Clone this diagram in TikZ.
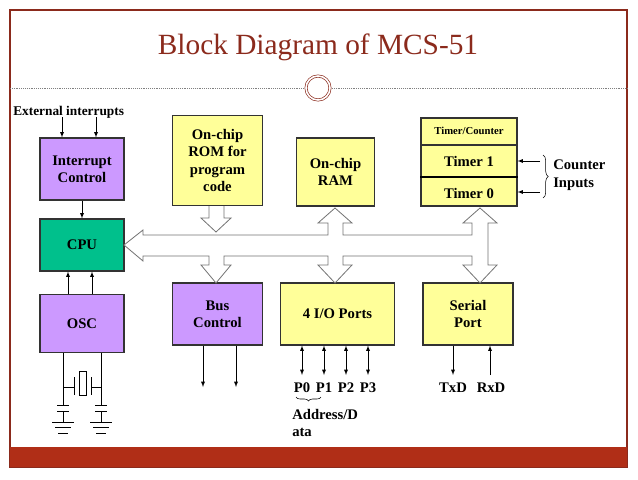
\documentclass[tikz,border=0pt]{standalone}
\usepackage{fontspec}
\setmainfont{Liberation Serif}
\usetikzlibrary{decorations.pathreplacing}
\definecolor{titlered}{HTML}{8B2A1C}
\definecolor{barred}{HTML}{B02E17}
\definecolor{cpugreen}{HTML}{00C08C}
\definecolor{oscviolet}{HTML}{CC99FF}
\definecolor{memyellow}{HTML}{FFFF99}
\tikzset{
  blk/.style={draw=black!80, thick, align=center, font=\fontsize{11}{13}\selectfont\bfseries, inner sep=0pt},
  lbl/.style={font=\fontsize{11}{13}\selectfont\bfseries, inner sep=0pt},
  sig/.style={-latex, thin},
  bus/.style={draw=black!55, fill=white, line width=0.6pt},
}
\begin{document}
\begin{tikzpicture}[x=0.75pt, y=-0.75pt]
    \useasboundingbox (0,0) rectangle (638,479);
    % Slide frame and title
    \draw[titlered, line width=0.8pt] (10,10) rectangle (627,467);
    \fill[barred] (10,447) rectangle (627,467);
    \node[titlered, font=\fontsize{22}{24}\selectfont] (title) at (318,47) {Block Diagram of MCS-51};
    \draw[black!50, densely dotted] (10,88) -- (304,88) (332,88) -- (627,88);
    \draw[titlered, double=white, double distance=1.2pt, line width=0.5pt] (318,88) circle (12);

    % Blocks
    \node[blk, fill=oscviolet, minimum width=63pt, minimum height=46.5pt] (intc) at (82,169) {Interrupt\\Control};
    \node[blk, fill=cpugreen, minimum width=63pt, minimum height=39pt] (cpu) at (82,245) {CPU};
    \node[blk, fill=oscviolet, minimum width=63pt, minimum height=43pt] (osc) at (82,323.5) {OSC};
    \node[blk, fill=memyellow, minimum width=67pt, minimum height=68pt] (rom) at (217.5,160.5) {On-chip\\ROM for\\program\\code};
    \node[blk, fill=memyellow, minimum width=59pt, minimum height=51pt] (ram) at (335.5,172) {On-chip\\RAM};
    \node[blk, fill=memyellow, minimum width=72pt, minimum height=66pt] (tmr) at (469,162) {};
    \node[lbl, font=\fontsize{8}{9}\selectfont\bfseries] (tc) at (469,131) {Timer/Counter};
    \node[lbl] (t1) at (469,161) {Timer 1};
    \node[lbl] (t0) at (469,193) {Timer 0};
    \draw[black!80, thick] (tmr.west |- 0,145) -- (tmr.east |- 0,145);
    \draw[black, line width=2pt] (tmr.west |- 0,177) -- (tmr.east |- 0,177);
    \node[blk, fill=oscviolet, minimum width=67pt, minimum height=46.5pt] (busc) at (217.5,314) {Bus\\Control};
    \node[blk, fill=memyellow, minimum width=86pt, minimum height=46.5pt] (io) at (337.5,314) {4 I/O Ports};
    \node[blk, fill=memyellow, minimum width=67.5pt, minimum height=46.5pt] (ser) at (468,314) {Serial\\Port};

    % System bus
    \draw[bus] (124,245) -- (143,230) -- (143,235) -- (328,235) -- (328,223) -- (318,223) -- (335,208)
      -- (352,223) -- (343,223) -- (343,235) -- (472,235) -- (472,223) -- (463,223) -- (480,208)
      -- (497,223) -- (488,223) -- (488,265) -- (497,265) -- (480,283) -- (463,265) -- (472,265)
      -- (472,256) -- (343,256) -- (343,265) -- (352,265) -- (335,283) -- (318,265) -- (328,265)
      -- (328,256) -- (224,256) -- (224,265) -- (231,265) -- (216,283) -- (201,265) -- (209,265)
      -- (209,256) -- (143,256) -- (143,261) -- cycle;
    \draw[bus] (209,206) -- (209,218) -- (201,218) -- (216,232) -- (231,218) -- (224,218) -- (224,206);

    % Interrupts and clock
    \node[lbl, font=\fontsize{10}{12}\selectfont\bfseries, anchor=west] (ext) at (13,112) {External interrupts};
    \coordinate (e1) at (62,117);
    \coordinate (e2) at (96,117);
    \draw[sig] (e1) -- (e1 |- intc.north);
    \draw[sig] (e2) -- (e2 |- intc.north);
    \draw[sig] (intc) -- (cpu);
    \draw[sig] (osc.north -| 68,0) -- (cpu.south -| 68,0);
    \draw[sig] (osc.north -| 92,0) -- (cpu.south -| 92,0);
    \foreach \x in {63,101} {
      \draw (osc.south -| \x,0) -- (\x,405) (\x-6,405) -- (\x+6,405) (\x-6,411) -- (\x+6,411) (\x,411) -- (\x,422);
      \draw (\x-11,422) -- (\x+11,422) (\x-8,427) -- (\x+8,427) (\x-5,433) -- (\x+5,433);
    }
    \draw (63,387) -- (74,387) (74,377) -- (74,395) (101,387) -- (91,387) (91,377) -- (91,395);
    \draw (79,371) rectangle (86,395);

    % External pins
    \foreach \x in {203,236} \draw[sig] (busc.south -| \x,0) -- (\x,387);
    \foreach \x/\p in {302/P0,324/P1,346/P2,368/P3} {
      \draw[latex-latex, thin] (io.south -| \x,0) -- (\x,375);
      \node[lbl] (pin\p) at (\x,388) {\p};
    }
    \draw[decorate, decoration={brace, mirror, amplitude=3pt}] (296,397) -- (321,397);
    \node[lbl, anchor=west] (addr) at (292,414) {Address/D};
    \node[lbl, anchor=west] (ata) at (292,432) {ata};
    \draw[sig] (ser.south -| 453,0) -- (453,375);
    \draw[sig] (490,375) -- (ser.south -| 490,0);
    \node[lbl] (txd) at (453,388) {TxD};
    \node[lbl] (rxd) at (491,388) {RxD};

    % Counter inputs
    \draw[sig] (540,161) -- (tmr.east |- 0,161);
    \draw[sig] (540,192) -- (tmr.east |- 0,192);
    \draw[decorate, decoration={brace, amplitude=4pt}] (543,155) -- (543,198);
    \node[lbl, anchor=west] (cnt) at (553,165) {Counter};
    \node[lbl, anchor=west] (inp) at (553,184) {Inputs};
\end{tikzpicture}
\end{document}
